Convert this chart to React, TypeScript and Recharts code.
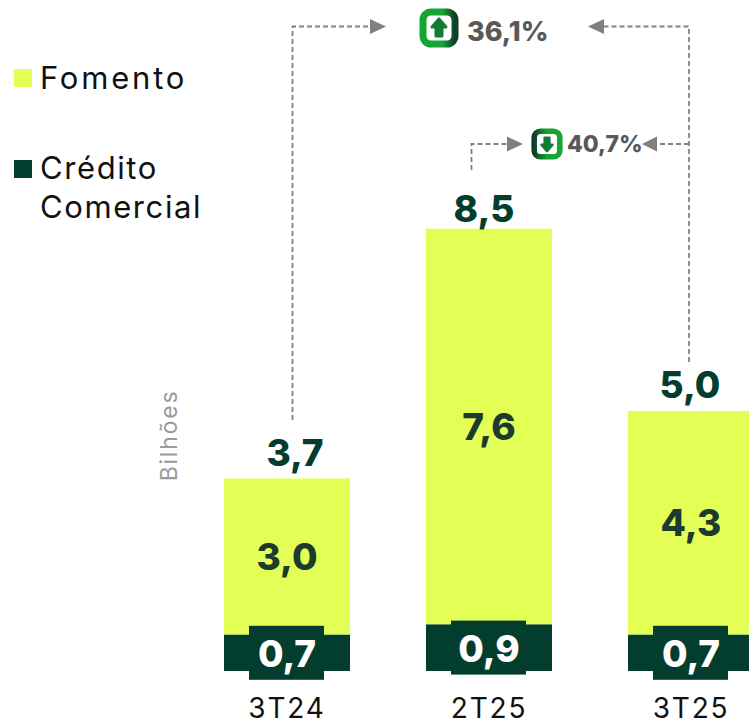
import React from "react";
import { BarChart, Bar, XAxis, YAxis, LabelList } from "recharts";

const categories = ["3T24", "2T25", "3T25"];
const fomento = [3.0, 7.6, 4.3];
const credito = [0.7, 0.9, 0.7];
const totals = [3.7, 8.5, 5.0];

const data = categories.map((name, i) => ({
    name,
    fomento: fomento[i],
    credito: credito[i],
    total: totals[i],
}));

// the total labels are not quite centred over the bars
const totalDx = [8, -5, -1];
const totalDy = [-26, -20, -26];

const FONT = "Inter, sans-serif";
const YELLOW = "#E3FF55";
const DARK = "#033D2E";
const GRAY = "#808080";

const fmt = (v: number) => v.toFixed(1).replace(".", ",");

const CreditoLabel = (props: any) => {
    const { x, y, width, height, value } = props;
    const cx = x + width / 2;
    const cy = y + height / 2;
    return (
        <g>
            <rect x={cx - 38} y={cy - 27} width={75} height={54} fill={DARK} />
            <text x={cx} y={cy + 1} textAnchor="middle" dominantBaseline="central" fill="#fff" fontFamily={FONT} fontWeight={800} fontSize={37}>
                {fmt(value)}
            </text>
        </g>
    );
};

const FomentoLabel = (props: any) => {
    const { x, y, width, height, value } = props;
    return (
        <text x={x + width / 2} y={y + height / 2} textAnchor="middle" dominantBaseline="central" fill="#1C3A2E" fontFamily={FONT} fontWeight={800} fontSize={37}>
            {fmt(value)}
        </text>
    );
};

const TotalLabel = (props: any) => {
    const { x, y, width, value, index } = props;
    return (
        <text x={x + width / 2 + totalDx[index]} y={y + totalDy[index]} textAnchor="middle" dominantBaseline="central" fill={DARK} fontFamily={FONT} fontWeight={800} fontSize={37}>
            {fmt(value)}
        </text>
    );
};

const XTick = (props: any) => {
    const { x, payload } = props;
    return (
        <text x={x} y={708} textAnchor="middle" dominantBaseline="central" fill="#111" fontFamily={FONT} fontWeight={400} fontSize={28} letterSpacing={1.8}>
            {payload.value}
        </text>
    );
};

const Badge = ({ x, y, size, up }: { x: number; y: number; size: number; up: boolean }) => {
    const c = x + size / 2;
    const m = y + size / 2;
    const k = size / 40;
    const s = up ? 1 : -1;
    const arrow = `M${c} ${m - s * 9 * k} L${c + 7 * k} ${m - s * 1 * k} L${c + 3 * k} ${m - s * 1 * k} L${c + 3 * k} ${m + s * 8 * k} L${c - 3 * k} ${m + s * 8 * k} L${c - 3 * k} ${m - s * 1 * k} L${c - 7 * k} ${m - s * 1 * k} Z`;
    return (
        <g>
            <rect x={x + 4 * k} y={y + 4 * k} width={size - 8 * k} height={size - 8 * k} rx={8 * k} fill="#fff" stroke={up ? "url(#badgeUp)" : "url(#badgeDown)"} strokeWidth={7 * k} />
            <path d={arrow} fill="#127A33" stroke="#127A33" strokeWidth={3 * k} strokeLinejoin="round" />
        </g>
    );
};

const Annotations = () => (
    <svg width={749} height={725} style={{ position: "absolute", left: 0, top: 0, pointerEvents: "none" }}>
        <defs>
            <linearGradient id="badgeUp" x1="0" x2="1" y1="0" y2="0">
                <stop offset="0" stopColor="#16A534" />
                <stop offset="0.6" stopColor="#16A534" />
                <stop offset="1" stopColor="#0F3D2A" />
            </linearGradient>
            <linearGradient id="badgeDown" x1="0" x2="1" y1="0" y2="0">
                <stop offset="0" stopColor="#0F3D2A" />
                <stop offset="0.5" stopColor="#16A534" />
                <stop offset="1" stopColor="#16A534" />
            </linearGradient>
        </defs>
        <g fill="none" stroke={GRAY} strokeWidth={1.8} strokeDasharray="5 3">
            <path d="M292.5 420 V26.5 H372" />
            <path d="M689 362 V26.5 H602" />
            <path d="M471.5 170 V144 H509" />
            <path d="M689 144 H655" />
        </g>
        <g fill={GRAY}>
            <path d="M386 26.5 L370 19 V34 Z" />
            <path d="M588 26.5 L604 19 V34 Z" />
            <path d="M523 144 L507 136.5 V151.5 Z" />
            <path d="M642 144 L657 136.5 V151.5 Z" />
        </g>
        <Badge x={419} y={8} size={40} up />
        <Badge x={531} y={128} size={32} up={false} />
        <text x={467} y={31} dominantBaseline="central" fill="#595959" fontFamily={FONT} fontWeight={800} fontSize={27}>36,1%</text>
        <text x={567} y={144} dominantBaseline="central" fill="#595959" fontFamily={FONT} fontWeight={800} fontSize={23}>40,7%</text>
        <text transform="translate(169 435.5) rotate(-90)" textAnchor="middle" dominantBaseline="central" fill="#9A9A9A" fontFamily={FONT} fontSize={23} letterSpacing={1.8}>Bilhões</text>
    </svg>
);

const legendText: React.CSSProperties = {
    position: "absolute",
    left: 40,
    fontFamily: FONT,
    fontSize: 31,
    lineHeight: "39px",
    color: "#111",
    whiteSpace: "nowrap",
};

const Swatch = ({ top, color }: { top: number; color: string }) => (
    <div style={{ position: "absolute", left: 14, top, width: 18, height: 18, background: color }} />
);

export default function App() {
    return (
        <div style={{ position: "absolute", left: 0, top: 0, width: 749, height: 725, overflow: "hidden", background: "#fff" }}>
            <BarChart
                width={792}
                height={725}
                data={data}
                margin={{ top: 0, right: 0, left: 186, bottom: 0 }}
                barSize={126}
            >
                <XAxis dataKey="name" axisLine={false} tickLine={false} height={54} tick={<XTick />} interval={0} />
                <YAxis hide domain={[0, 12.9]} />
                <Bar dataKey="credito" stackId="a" fill={DARK} isAnimationActive={false}>
                    <LabelList dataKey="credito" content={<CreditoLabel />} />
                </Bar>
                <Bar dataKey="fomento" stackId="a" fill={YELLOW} isAnimationActive={false}>
                    <LabelList dataKey="fomento" content={<FomentoLabel />} />
                    <LabelList dataKey="total" content={<TotalLabel />} />
                </Bar>
            </BarChart>
            <Annotations />
            <Swatch top={69} color={YELLOW} />
            <div style={{ ...legendText, top: 58, letterSpacing: 2.8 }}>Fomento</div>
            <Swatch top={160} color={DARK} />
            <div style={{ ...legendText, top: 148, letterSpacing: 1.6 }}>Crédito<br />Comercial</div>
        </div>
    );
}
